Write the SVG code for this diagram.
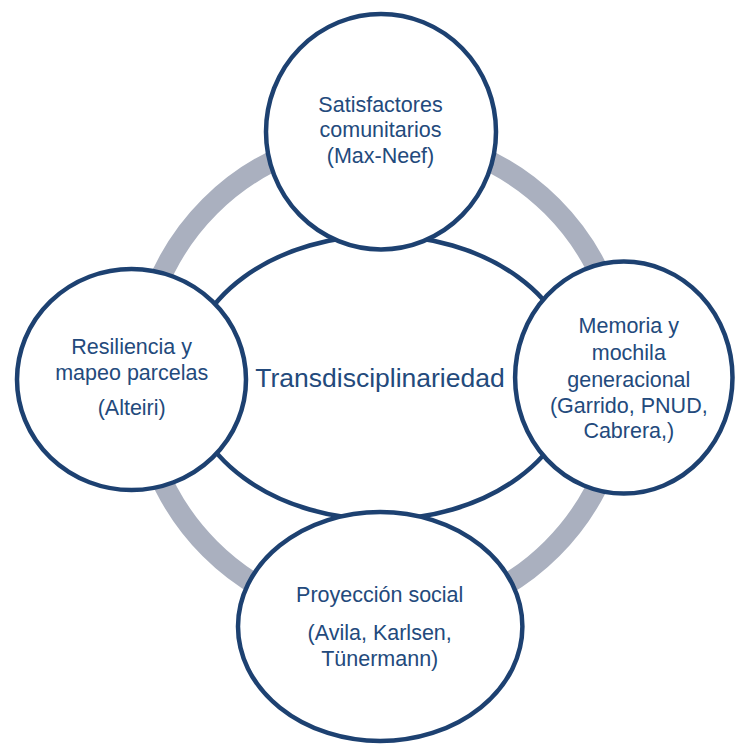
<svg xmlns="http://www.w3.org/2000/svg" width="735" height="744" viewBox="0 0 735 744">
  <style>
    .node { fill: #ffffff; stroke: #1d4171; stroke-width: 4.5; }
    .ring { fill: none; stroke: #aab0bf; stroke-width: 21; }
    .lbl { font-family: "Liberation Sans", Arial, sans-serif; font-size: 21.5px; fill: #234a7c; text-anchor: middle; }
    .center { font-family: "Liberation Sans", Arial, sans-serif; font-size: 26.5px; fill: #234a7c; text-anchor: middle; }
  </style>
  <rect x="0" y="0" width="735" height="744" fill="#ffffff"/>
  <g id="connectors">
    <circle class="ring" cx="381" cy="377.5" r="242"/>
  </g>
  <g id="node-center">
    <ellipse class="node" cx="381" cy="377.5" rx="194" ry="142"/>
    <text class="center" x="380" y="387">Transdisciplinariedad</text>
  </g>
  <g id="node-top">
    <ellipse class="node" cx="381" cy="131.7" rx="115" ry="117.7"/>
    <text class="lbl" x="380.5" y="111.7">Satisfactores</text>
    <text class="lbl" x="380.5" y="137.3">comunitarios</text>
    <text class="lbl" x="380.5" y="163">(Max-Neef)</text>
  </g>
  <g id="node-left">
    <ellipse class="node" cx="131.5" cy="379.5" rx="114.5" ry="110.5"/>
    <text class="lbl" x="131.7" y="354">Resiliencia y</text>
    <text class="lbl" x="131.7" y="380">mapeo parcelas</text>
    <text class="lbl" x="131.7" y="415">(Alteiri)</text>
  </g>
  <g id="node-right">
    <ellipse class="node" cx="623.8" cy="377.6" rx="108.7" ry="116"/>
    <text class="lbl" x="628.8" y="333.3">Memoria y</text>
    <text class="lbl" x="628.8" y="360">mochila</text>
    <text class="lbl" x="628.8" y="386.7">generacional</text>
    <text class="lbl" x="628.8" y="413.3">(Garrido, PNUD,</text>
    <text class="lbl" x="628.8" y="438.3">Cabrera,)</text>
  </g>
  <g id="node-bottom">
    <ellipse class="node" cx="380.2" cy="626.5" rx="142.2" ry="114.5"/>
    <text class="lbl" x="379.7" y="601.7">Proyección social</text>
    <text class="lbl" x="379.7" y="640">(Avila, Karlsen,</text>
    <text class="lbl" x="379.7" y="665.7">Tünermann)</text>
  </g>
</svg>
